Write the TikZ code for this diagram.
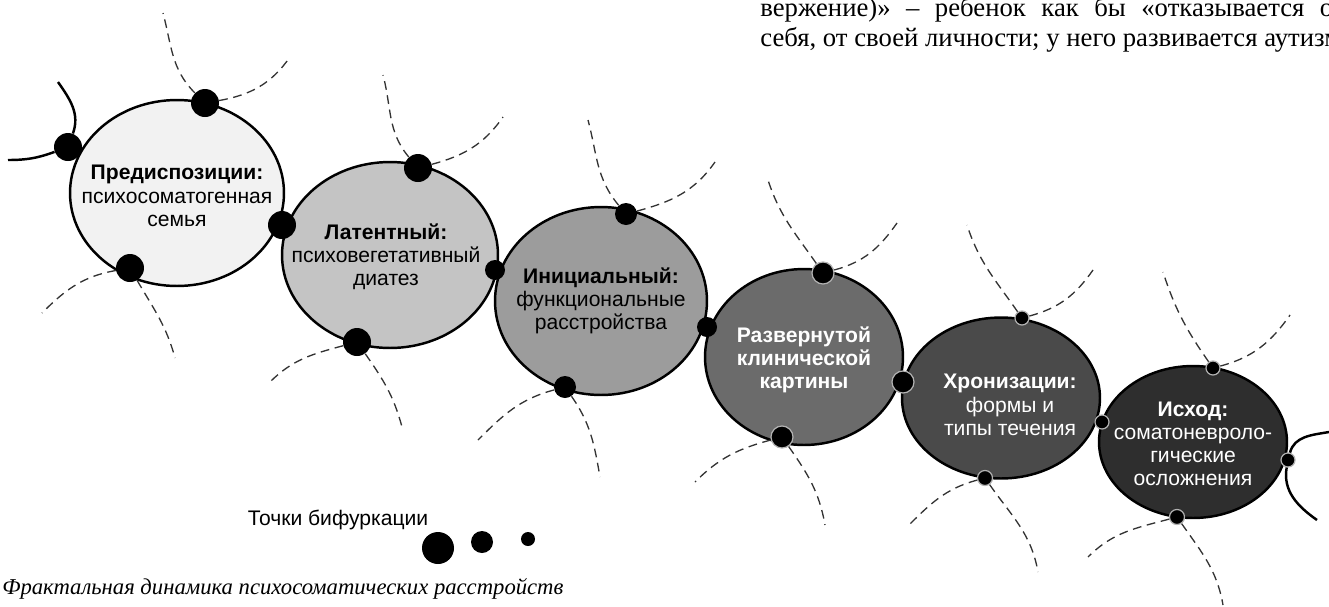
\documentclass[tikz,border=0pt]{standalone}
\usepackage{fontspec}
\setmainfont{Liberation Serif}
\setsansfont{Liberation Sans}
\usepackage{tikz}
\usetikzlibrary{shapes.geometric}

\begin{document}
\begin{tikzpicture}[x=0.02cm, y=0.02cm,
    stage/.style={ellipse, draw=black, line width=1.4pt, inner sep=0pt},
    stagetxt/.style={align=center, inner sep=0pt, font=\sffamily\fontsize{12}{13.2}\selectfont},
    bif/.style={circle, fill=black, inner sep=0pt},
    ring/.style={draw=black!30, line width=0.7pt},
    fracline/.style={dashed, dash pattern=on 5pt off 3.2pt, line width=0.75pt, black!80},
    tail/.style={line width=1.4pt}]
    \useasboundingbox (0,0) rectangle (1329,-606);

    \node[stage, fill=black!5, minimum width=4.28cm, minimum height=3.72cm] (c1) at (177,-193) {};
    \node[stage, fill=black!23, minimum width=4.32cm, minimum height=3.72cm] (c2) at (390,-255) {};
    \node[stage, fill=black!39, minimum width=4.24cm, minimum height=3.76cm] (c3) at (601,-301) {};
    \node[stage, fill=black!58, minimum width=3.96cm, minimum height=3.52cm] (c4) at (804,-357) {};
    \node[stage, fill=black!71, minimum width=3.96cm, minimum height=3.22cm] (c5) at (1001,-398) {};
    \node[stage, fill=black!82, minimum width=3.76cm, minimum height=3.04cm] (c6) at (1193,-442) {};

    \node[stagetxt] (t1) at ([shift={(0,-3)}]c1.center) {\textbf{Предиспозиции:}\\психосоматогенная\\семья};
    \node[stagetxt] (t2) at ([shift={(-4,-2)}]c2.center) {\textbf{Латентный:}\\психовегетативный\\диатез};
    \node[stagetxt] (t3) at (c3) {\textbf{Инициальный:}\\функциональные\\расстройства};
    \node[stagetxt, text=white] (t4) at ([shift={(0,-3)}]c4.center) {\textbf{Развернутой}\\\textbf{клинической}\\\textbf{картины}};
    \node[stagetxt, text=white] (t5) at ([shift={(9,-7)}]c5.center) {\textbf{Хронизации:}\\формы и\\типы течения};
    \node[stagetxt, text=white] (t6) at ([shift={(0,-2)}]c6.center) {\textbf{Исход:}\\соматоневроло-\\гические\\осложнения};

    \node[bif, minimum size=0.56cm] (d1t) at (205,-103) {};
    \node[bif, minimum size=0.56cm] (d1l) at (68,-147) {};
    \node[bif, minimum size=0.56cm] (d1r) at (282,-225) {};
    \node[bif, minimum size=0.56cm] (d1b) at (130,-268) {};
    \node[bif, minimum size=0.56cm] (d2t) at (418,-168) {};
    \node[bif, minimum size=0.40cm] (d2r) at (495,-270) {};
    \node[bif, minimum size=0.56cm] (d2b) at (357,-342) {};
    \node[bif, minimum size=0.44cm] (d3t) at (626,-214) {};
    \node[bif, minimum size=0.40cm] (d3r) at (707,-327) {};
    \node[bif, minimum size=0.44cm] (d3b) at (565,-387) {};
    \node[bif, ring, minimum size=0.44cm] (d4t) at (823,-273) {};
    \node[bif, ring, minimum size=0.44cm] (d4r) at (903,-382) {};
    \node[bif, ring, minimum size=0.44cm] (d4b) at (782,-437) {};
    \node[bif, ring, minimum size=0.28cm] (d5t) at (1022,-318) {};
    \node[bif, ring, minimum size=0.28cm] (d5r) at (1102,-422) {};
    \node[bif, ring, minimum size=0.30cm] (d5b) at (985,-478) {};
    \node[bif, ring, minimum size=0.28cm] (d6t) at (1213,-368) {};
    \node[bif, ring, minimum size=0.28cm] (d6r) at (1288,-460) {};
    \node[bif, ring, minimum size=0.30cm] (d6b) at (1177,-517) {};

    \draw[tail] (d1l) to[out=200,in=0] ++(-60,-13);
    \draw[tail] (d1l) to[out=70,in=-55] ++(-10,65);
    \draw[tail] (d6r) to[out=75,in=190] ++(41,28);
    \draw[tail] (d6r) to[out=260,in=145] ++(29,-60);

    \draw[fracline] (d1t) to[out=135,in=-75] ++(-42,90);
    \draw[fracline] (d1t) to[out=10,in=235] ++(85,46);
    \draw[fracline] (d1b) to[out=190,in=45] ++(-88,-45);
    \draw[fracline] (d1b) to[out=-60,in=105] ++(45,-90);
    \draw[fracline] (d2t) to[out=130,in=-75] ++(-35,93);
    \draw[fracline] (d2t) to[out=15,in=235] ++(85,51);
    \draw[fracline] (d2b) to[out=195,in=45] ++(-87,-40);
    \draw[fracline] (d2b) to[out=-55,in=105] ++(45,-85);
    \draw[fracline] (d3t) to[out=130,in=-75] ++(-38,94);
    \draw[fracline] (d3t) to[out=15,in=235] ++(89,52);
    \draw[fracline] (d3b) to[out=195,in=45] ++(-87,-53);
    \draw[fracline] (d3b) to[out=-55,in=100] ++(35,-90);
    \draw[fracline] (d4t) to[out=125,in=-72] ++(-55,93);
    \draw[fracline] (d4t) to[out=15,in=235] ++(74,50);
    \draw[fracline] (d4b) to[out=195,in=45] ++(-87,-45);
    \draw[fracline] (d4b) to[out=-55,in=100] ++(43,-88);
    \draw[fracline] (d5t) to[out=125,in=-72] ++(-55,93);
    \draw[fracline] (d5t) to[out=15,in=235] ++(71,48);
    \draw[fracline] (d5b) to[out=195,in=45] ++(-78,-49);
    \draw[fracline] (d5b) to[out=-55,in=100] ++(53,-94);
    \draw[fracline] (d6t) to[out=125,in=-72] ++(-50,96);
    \draw[fracline] (d6t) to[out=15,in=235] ++(77,53);
    \draw[fracline] (d6b) to[out=195,in=45] ++(-89,-40);
    \draw[fracline] (d6b) to[out=-55,in=100] ++(46,-88);

    \node[stagetxt] (leg) at (338,-520) {Точки бифуркации};
    \node[bif, minimum size=0.64cm] (l1) at (438,-548) {};
    \node[bif, minimum size=0.44cm] (l2) at (482,-542) {};
    \node[bif, minimum size=0.28cm] (l3) at (528,-539) {};

    \node[anchor=base west, inner sep=0pt, font=\fontsize{15.2}{16}\selectfont] (p1) at (760,-16)
        {\makebox[11.46cm][s]{вержение)» – ребенок как бы «отказывается о}};
    \node[anchor=base west, inner sep=0pt, font=\fontsize{15.2}{16}\selectfont] (p2) at (760,-46)
        {себя, от своей личности; у него развивается аутизм};
    \node[anchor=base west, inner sep=0pt, font=\itshape\fontsize{12.9}{14}\selectfont] (cap) at (2,-594)
        {Фрактальная динамика психосоматических расстройств};
\end{tikzpicture}
\end{document}
